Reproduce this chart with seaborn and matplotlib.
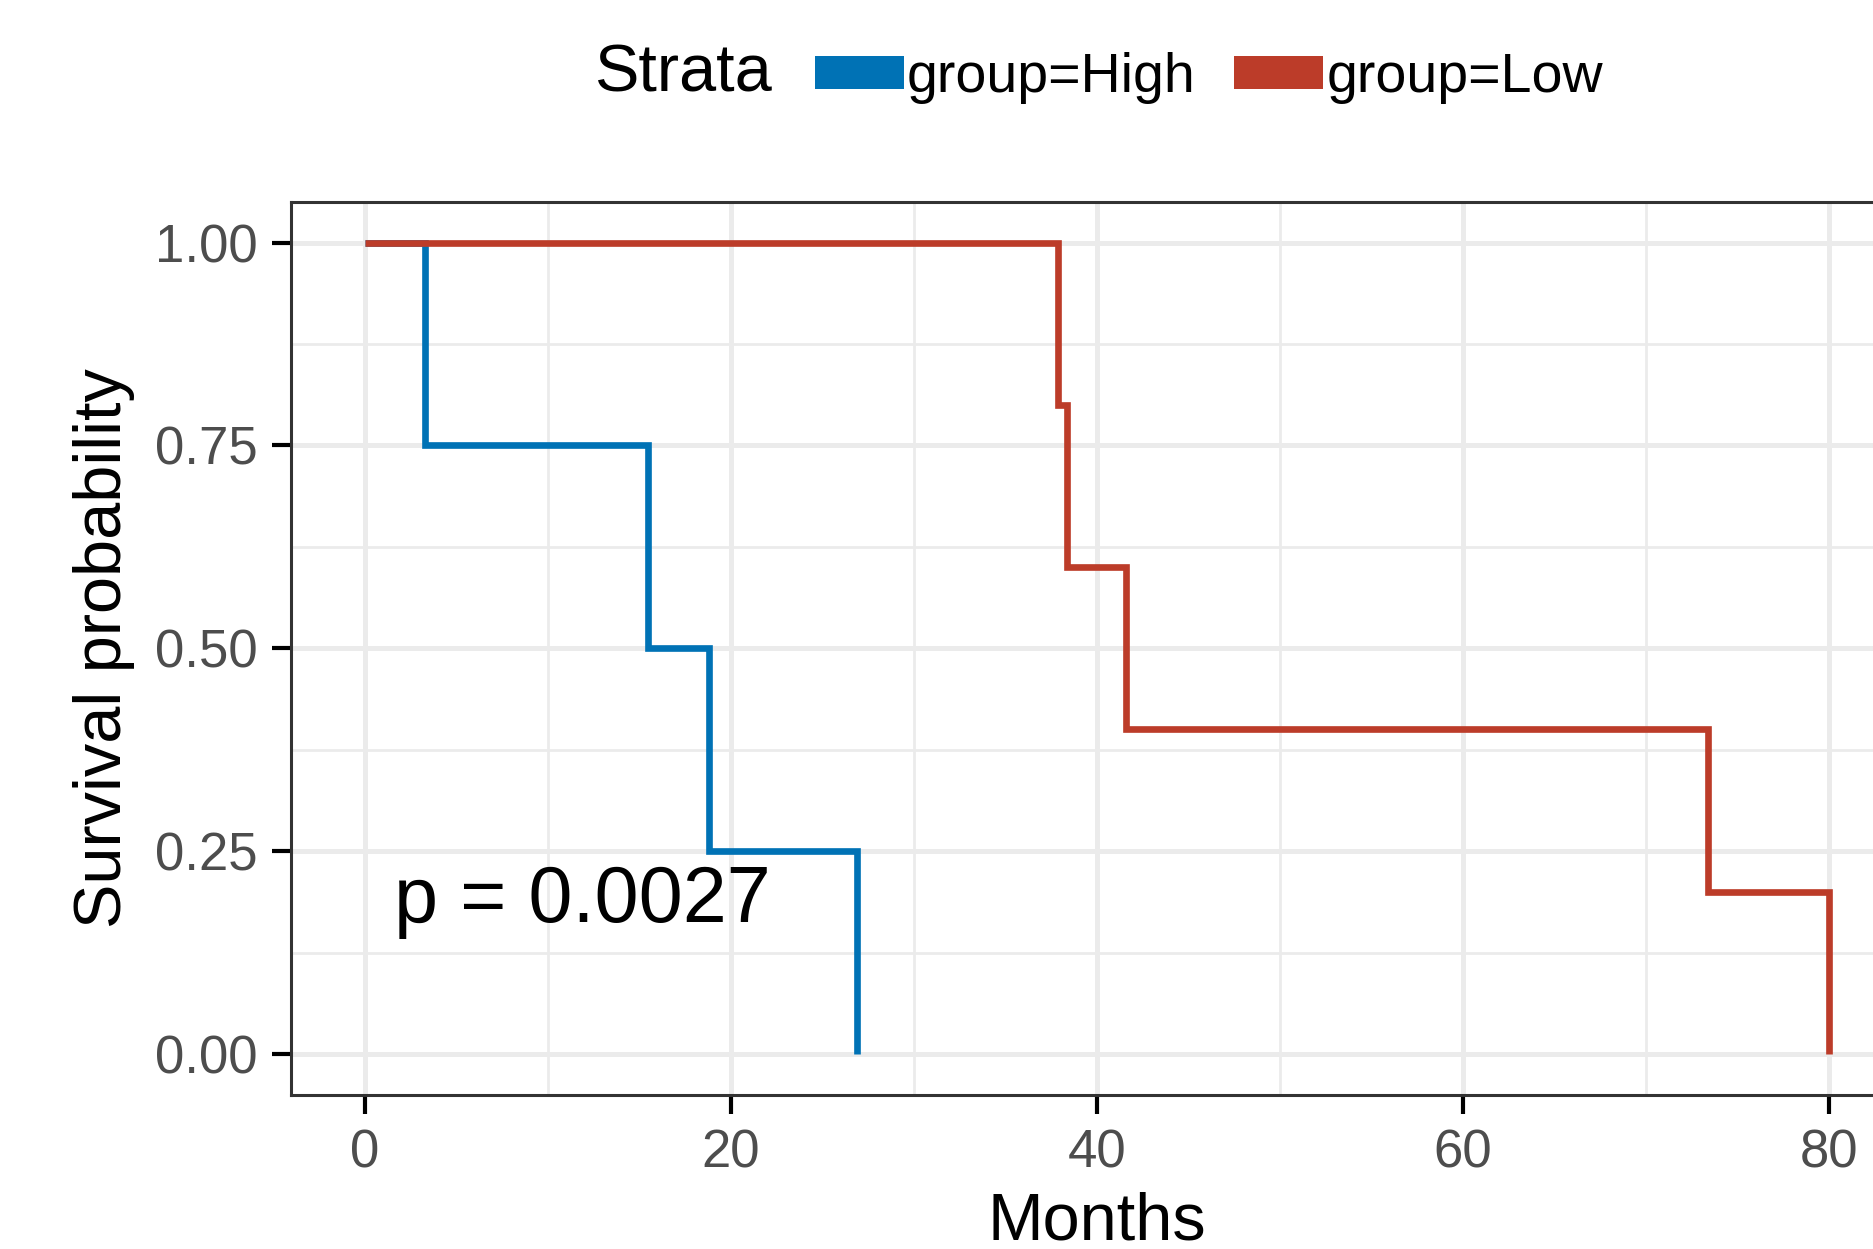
import seaborn as sns
import matplotlib.pyplot as plt
import pandas as pd
from matplotlib.patches import Patch
from matplotlib.ticker import MultipleLocator

# survival curves (step points)
high_time = [0, 3.3, 15.5, 18.8, 26.9]
high_surv = [1.0, 0.75, 0.50, 0.25, 0.0]
low_time = [0, 37.9, 38.4, 41.6, 73.4, 80.0]
low_surv = [1.0, 0.80, 0.60, 0.40, 0.20, 0.0]
groups = ["High", "Low"]
colors = {"High": "#0072B5", "Low": "#BC3C29"}
x_ticks = [0, 20, 40, 60, 80]
y_ticks = [0.00, 0.25, 0.50, 0.75, 1.00]
y_ticklabels = ["0.00", "0.25", "0.50", "0.75", "1.00"]
pval_text = "p = 0.0027"

df = pd.concat([
    pd.DataFrame({"time": high_time, "surv": high_surv, "group": "High"}),
    pd.DataFrame({"time": low_time, "surv": low_surv, "group": "Low"}),
])

sns.set_theme(style="white")
plt.rcParams["font.family"] = ["Liberation Sans", "DejaVu Sans"]
plt.rcParams["text.color"] = "black"
plt.rcParams["axes.labelcolor"] = "black"

fig = plt.figure(figsize=(18.74, 12.49), dpi=100)
ax = fig.add_axes([0.1555, 0.1236, 0.8593, 0.7147])

sns.lineplot(data=df, x="time", y="surv", hue="group", hue_order=groups,
             palette=colors, estimator=None, sort=False, drawstyle="steps-post",
             linewidth=4.8, legend=False, ax=ax, zorder=3,
             solid_capstyle="butt", solid_joinstyle="miter")

ax.text(1.6, 0.163, pval_text, fontsize=57, ha="left", va="baseline", color="black")

ax.set_xlim(-4, 84)
ax.set_ylim(-0.05, 1.05)
ax.set_xticks(x_ticks)
ax.set_yticks(y_ticks)
ax.set_yticklabels(y_ticklabels)
ax.xaxis.set_minor_locator(MultipleLocator(10))
ax.yaxis.set_minor_locator(MultipleLocator(0.125))
ax.grid(which="major", color="#EBEBEB", linewidth=3.6, zorder=0)
ax.grid(which="minor", color="#EBEBEB", linewidth=2.0, zorder=0)
ax.set_axisbelow(True)
ax.tick_params(which="major", bottom=True, left=True, length=13.5, width=3.0,
               color="black", labelsize=38, labelcolor="#4D4D4D", pad=11)
ax.tick_params(which="minor", length=0)
for s in ax.spines.values():
    s.set_color("#333333")
    s.set_linewidth(2.2)

ax.set_xlabel("Months", fontsize=48, labelpad=9)
ax.set_ylabel("Survival probability", fontsize=48, labelpad=14)

# legend on top
fig.text(0.317, 0.940, "Strata", fontsize=48, ha="left", va="center")
handles = [Patch(facecolor=colors[g], edgecolor="none", label="group=" + g) for g in groups]
fig.legend(handles=handles, loc="center left", bbox_to_anchor=(0.435, 0.9375),
           ncol=2, frameon=False, fontsize=40, handlelength=1.6, handleheight=0.54,
           handletextpad=0.05, columnspacing=0.7, borderpad=0, borderaxespad=0)

fig.savefig("out.png", dpi=100)
